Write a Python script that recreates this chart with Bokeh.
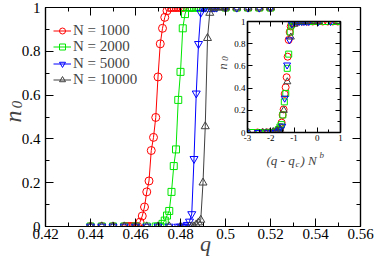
from math import pi
from bokeh.plotting import figure
from bokeh.models import (LinearAxis, FixedTicker, CustomJSTickFormatter, Legend,
                          LegendItem, Label, GridBox, Range1d)
from bokeh.embed import file_html
from bokeh.resources import INLINE

# ---------------- data ----------------
q_1000 = [0.44, 0.445, 0.45, 0.455, 0.456, 0.457, 0.458, 0.459, 0.46, 0.461, 0.462, 0.463,
          0.464, 0.465, 0.466, 0.467, 0.468, 0.469, 0.47, 0.471, 0.472, 0.473, 0.474, 0.475,
          0.476, 0.477, 0.478, 0.479, 0.48, 0.481, 0.485, 0.49, 0.495, 0.5, 0.505, 0.51,
          0.515, 0.52]
n_1000 = [0, 0, 0, 0, 0, 0, 0, 0, 0, 0, 0.02, 0.048, 0.089, 0.158, 0.208, 0.347, 0.407,
          0.498, 0.683, 0.834, 0.905, 0.955, 0.985, 1, 1, 1, 1, 1, 1, 1, 1, 1, 1, 1, 1, 1, 1, 1]

q_2000 = [0.44, 0.445, 0.45, 0.455, 0.46, 0.465, 0.469, 0.47, 0.471, 0.472, 0.473, 0.474,
          0.475, 0.476, 0.477, 0.478, 0.479, 0.48, 0.481, 0.482, 0.483, 0.484, 0.485, 0.486,
          0.487, 0.488, 0.489, 0.49, 0.495, 0.5, 0.505, 0.51, 0.515, 0.52]
n_2000 = [0, 0, 0, 0, 0, 0, 0, 0, 0, 0.012, 0.027, 0.05, 0.071, 0.158, 0.276, 0.352, 0.578,
          0.706, 0.905, 0.97, 1, 1, 1, 1, 1, 1, 1, 1, 1, 1, 1, 1, 1, 1]

q_5000 = [0.44, 0.445, 0.45, 0.455, 0.46, 0.465, 0.47, 0.475, 0.479, 0.48, 0.481, 0.482,
          0.483, 0.484, 0.485, 0.486, 0.487, 0.488, 0.489, 0.49, 0.491, 0.492, 0.493, 0.494,
          0.495, 0.496, 0.5, 0.505, 0.51, 0.515, 0.52]
n_5000 = [0, 0, 0, 0, 0, 0, 0, 0, 0, 0, 0, 0, 0.008, 0.023, 0.057, 0.309, 0.608, 0.834,
          0.977, 1, 1, 1, 1, 1, 1, 1, 1, 1, 1, 1, 1]

q_10000 = [0.44, 0.445, 0.45, 0.455, 0.46, 0.465, 0.47, 0.475, 0.48, 0.484, 0.485, 0.486,
           0.487, 0.488, 0.489, 0.49, 0.491, 0.492, 0.493, 0.494, 0.495, 0.496, 0.497, 0.498,
           0.499, 0.5, 0.505, 0.51, 0.515, 0.52]
n_10000 = [0, 0, 0, 0, 0, 0, 0, 0, 0, 0, 0, 0, 0.009, 0.018, 0.03, 0.2, 0.457, 0.86, 0.975,
           1, 1, 1, 1, 1, 1, 1, 1, 1, 1, 1]

system_sizes = [1000, 2000, 5000, 10000]
series_labels = ["N = 1000", "N = 2000", "N = 5000", "N = 10000"]
series_q = [q_1000, q_2000, q_5000, q_10000]
series_n = [n_1000, n_2000, n_5000, n_10000]

# scaling-collapse parameters
QC = 0.4995
B_EXP = 0.545

x_major = [0.42, 0.44, 0.46, 0.48, 0.5, 0.52, 0.54, 0.56]
x_minor = [0.42, 0.43, 0.44, 0.45, 0.46, 0.47, 0.48, 0.49, 0.5, 0.51, 0.52, 0.53, 0.54, 0.55, 0.56]
y_major = [0, 0.2, 0.4, 0.6, 0.8, 1]
y_minor = [0, 0.1, 0.2, 0.3, 0.4, 0.5, 0.6, 0.7, 0.8, 0.9, 1]
ix_major = [-3, -2, -1, 0, 1]
ix_minor = [-3, -2.5, -2, -1.5, -1, -0.5, 0, 0.5, 1]

colors = ["#ff0000", "#00e600", "#0000ff", "#404040"]
markers = ["circle", "square", "inverted_triangle", "triangle"]
msizes = [8, 7, 8, 8]

SERIF = "'Liberation Serif', 'Times New Roman', 'DejaVu Serif', serif"
fmt = CustomJSTickFormatter(code="return Number(tick.toFixed(2)).toString()")
blank = CustomJSTickFormatter(code="return ''")

# ---------------- geometry (pixels) ----------------
W, H = 374, 259
M_LEFT, M_RIGHT, M_TOP, M_BOTTOM = 45, 14, 7, 33
X0, X1, Y0, Y1 = 0.42, 0.56, 0.0, 1.0

IL, IT, IW, IH = 212, 14, 132, 154          # inset canvas
IM_LEFT, IM_RIGHT, IM_TOP, IM_BOTTOM = 35, 4, 7, 36
IX0, IX1 = -3.0, 1.0

legend_centers = [30, 46.5, 63, 79.5]       # legend rows, pixels from top


def style_axis(ax, major, minor, font_size, tin, tmin, show_labels=True, standoff=4):
    ax.ticker = FixedTicker(ticks=major, minor_ticks=minor)
    ax.major_tick_in = tin
    ax.major_tick_out = 0
    ax.minor_tick_in = tmin
    ax.minor_tick_out = 0
    ax.axis_line_color = "black"
    ax.axis_line_width = 1.2
    ax.major_tick_line_color = "black"
    ax.minor_tick_line_color = "black"
    if show_labels:
        ax.formatter = fmt
        ax.major_label_text_font = SERIF
        ax.major_label_text_font_size = font_size
        ax.major_label_text_color = "black"
        ax.major_label_standoff = standoff
    else:
        ax.formatter = blank
        ax.major_label_text_font_size = "1px"
        ax.major_label_standoff = 0


# ---------------- main plot ----------------
p = figure(width=W, height=H, x_range=(X0, X1), y_range=(Y0, Y1),
           output_backend="svg", toolbar_location=None,
           min_border_left=M_LEFT, min_border_right=M_RIGHT,
           min_border_top=M_TOP, min_border_bottom=M_BOTTOM)
p.frame_align = False
p.grid.visible = False
p.outline_line_color = "black"
p.outline_line_width = 1.2
p.background_fill_color = "white"

style_axis(p.xaxis[0], x_major, x_minor, "15px", 8, 4, standoff=2)
style_axis(p.yaxis[0], y_major, y_minor, "15px", 8, 4, standoff=5)
top_ax = LinearAxis()
right_ax = LinearAxis()
style_axis(top_ax, x_major, x_minor, None, 8, 4, show_labels=False)
style_axis(right_ax, y_major, y_minor, None, 8, 4, show_labels=False)
p.add_layout(top_ax, "above")
p.add_layout(right_ax, "right")

for q, n, c, m, s, lab, cy in zip(series_q, series_n, colors, markers, msizes,
                                  series_labels, legend_centers):
    ln = p.line(q, n, line_color=c, line_width=1)
    sc = p.scatter(q, n, marker=m, size=s, fill_color=None, line_color=c, line_width=1)
    leg = Legend(items=[LegendItem(label=lab, renderers=[ln, sc])],
                 location=(8, H - M_BOTTOM - cy - 8.5), margin=0, padding=0, spacing=0,
                 glyph_height=15, label_height=15, glyph_width=18, label_standoff=2,
                 label_text_font=SERIF, label_text_font_size="15px",
                 background_fill_alpha=0, border_line_alpha=0)
    p.add_layout(leg)

# ---------------- inset ----------------
ins = figure(width=IW, height=IH, x_range=(IX0, IX1), y_range=(Y0, Y1),
             output_backend="svg", toolbar_location=None,
             min_border_left=IM_LEFT, min_border_right=IM_RIGHT,
             min_border_top=IM_TOP, min_border_bottom=IM_BOTTOM)
ins.frame_align = False
ins.grid.visible = False
ins.outline_line_color = "black"
ins.outline_line_width = 1.5
ins.background_fill_color = "white"
ins.border_fill_color = None

style_axis(ins.xaxis[0], ix_major, ix_minor, "9px", 5, 3, standoff=2)
style_axis(ins.yaxis[0], y_major, y_minor, "9px", 5, 3, standoff=2)
itop = LinearAxis()
iright = LinearAxis()
style_axis(itop, ix_major, ix_minor, None, 5, 3, show_labels=False)
style_axis(iright, y_major, y_minor, None, 5, 3, show_labels=False)
ins.add_layout(itop, "above")
ins.add_layout(iright, "right")

for q, n, c, m, s, N in zip(series_q, series_n, colors, markers, msizes, system_sizes):
    xs = [(qq - QC) * N ** B_EXP for qq in q]
    ins.scatter(xs, n, marker=m, size=s - 1, fill_color=None, line_color=c, line_width=1)

# ---------------- text overlay (axis titles), pixel coordinates ----------------
ov = figure(width=W, height=H, x_range=Range1d(0, W), y_range=Range1d(H, 0),
            output_backend="svg", toolbar_location=None, x_axis_type=None, y_axis_type=None,
            min_border=0, min_border_left=0, min_border_right=0, min_border_top=0,
            min_border_bottom=0)
ov.frame_align = False
ov.grid.visible = False
ov.outline_line_color = None
ov.background_fill_color = None
ov.border_fill_color = None


def title_text(text, px, py, size, angle=0.0, align="left", baseline="alphabetic"):
    ov.add_layout(Label(x=px, y=py, text=text, text_font=SERIF, text_font_style="italic",
                        text_font_size=size, text_align=align, text_baseline=baseline,
                        angle=angle))


# main axis titles
title_text("q", 205, 243, "22px", align="center")
title_text("n", 12, 116, "24px", angle=pi / 2, align="center", baseline="middle")
title_text("0", 16, 104, "15px", angle=pi / 2, align="center", baseline="middle")
# inset axis titles
title_text("n", 222, 66, "13px", angle=pi / 2, align="center", baseline="middle")
title_text("0", 224, 58, "9px", angle=pi / 2, align="center", baseline="middle")
title_text("(q - q", 266, 160, "13px")
title_text("c", 295, 163, "9px")
title_text(") N", 300, 160, "13px")
title_text("b", 319, 154, "9px")

grid = GridBox(children=[(p, 0, 0, 3, 3), (ins, 1, 1, 1, 1), (ov, 0, 0, 3, 3)],
               rows=[f"{IT}px", f"{IH}px", f"{H - IT - IH}px"],
               cols=[f"{IL}px", f"{IW}px", f"{W - IL - IW}px"], spacing=0)

open("out.html", "w").write(file_html(grid, INLINE))
